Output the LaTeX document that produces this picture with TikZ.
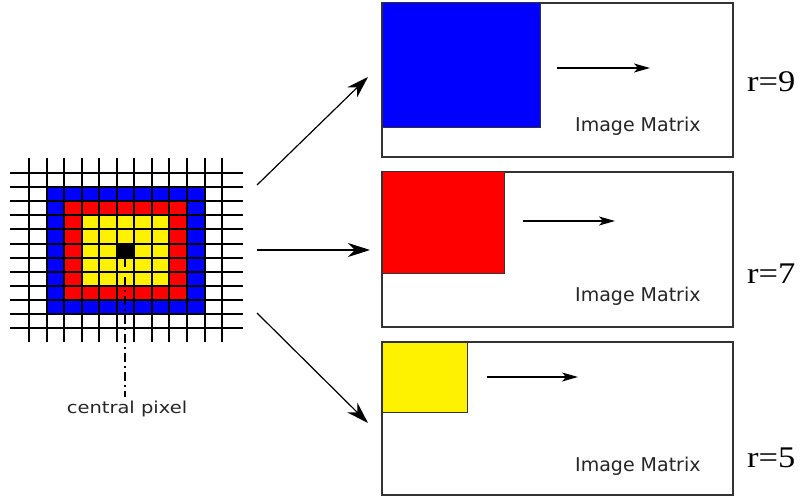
\documentclass[tikz,border=0pt]{standalone}
\usepackage{fontspec}
\usepackage{graphicx}
\setmainfont{Liberation Serif}
\newfontfamily\labelfont{DejaVu Sans}
\usetikzlibrary{arrows.meta}
\begin{document}
\begin{tikzpicture}[x=1pt,y=-1pt,
  gridline/.style={line width=2pt, black},
  matbox/.style={draw=black!80, line width=1.6pt, fill=white, inner sep=0pt, outer sep=0pt, anchor=north west},
  sq/.style={draw=black!80, line width=1pt},
  bigarrow/.style={line width=1.2pt, -{Stealth[length=22pt,width=14pt,inset=7pt]}},
  smallarrow/.style={line width=1.2pt, -{Stealth[length=16pt,width=9pt,inset=4pt]}},
  imtext/.style={anchor=base west, inner sep=0pt, font=\labelfont\fontsize{19}{22}\selectfont, text=black!85},
  rtext/.style={anchor=base west, inner sep=0pt, font=\fontsize{30}{34}\selectfont},
  captext/.style={anchor=base, inner sep=0pt, font=\labelfont\fontsize{16.5}{19}\selectfont, text=black!85}
]
\useasboundingbox (0,0) rectangle (800,497);
% pixel neighbourhood
\fill[blue]   (46.55,187.1) rectangle (204.5,314);
\fill[red]    (64.1,201.2) rectangle (187,299.9);
\fill[yellow] (81.65,215.3) rectangle (169.4,285.8);
\fill[black]  (116.75,243.5) rectangle (134.3,257.6);
\foreach \i in {0,...,11} {
  \draw[gridline] ({29+17.55*\i},158) -- ({29+17.55*\i},342);
  \draw[gridline] (10,{173+14.1*\i}) -- (243,{173+14.1*\i});
}
\coordinate (cp) at (125,258);
\coordinate (cpend) at (125,397);
\draw[line width=1.5pt, dash pattern=on 9pt off 4pt on 2pt off 4pt] (cp) -- (cpend);
\node[captext] (cap) at (127,413) {\scalebox{1.18}[1]{central pixel}};
% matrices
\node[matbox, minimum width=351pt, minimum height=154pt] (m9) at (382,3) {};
\node[matbox, minimum width=351pt, minimum height=155pt] (m7) at (382,172) {};
\node[matbox, minimum width=351pt, minimum height=153pt] (m5) at (382,342) {};
\draw[sq, fill=blue]   (m9.north west) rectangle (540,128);
\draw[sq, fill=red]    (m7.north west) rectangle (504,273);
\draw[sq, fill=yellow] (m5.north west) rectangle (467,412);
\coordinate (a9s) at (557,68);  \coordinate (a9e) at (650,68);
\coordinate (a7s) at (523,221); \coordinate (a7e) at (615,221);
\coordinate (a5s) at (487,377); \coordinate (a5e) at (578,377);
\draw[smallarrow] (a9s) -- (a9e);
\draw[smallarrow] (a7s) -- (a7e);
\draw[smallarrow] (a5s) -- (a5e);
\node[imtext] (t9) at (575,132) {Image Matrix};
\node[imtext] (t7) at (575,301) {Image Matrix};
\node[imtext] (t5) at (575,471) {Image Matrix};
\node[rtext] (r9) at (747,92) {\scalebox{1.15}[1]{r=9}};
\node[rtext] (r7) at (747,283) {\scalebox{1.15}[1]{r=7}};
\node[rtext] (r5) at (747,467) {\scalebox{1.15}[1]{r=5}};
% main arrows
\coordinate (g9) at (257,185); \coordinate (e9) at (368,77);
\coordinate (g7) at (257,250); \coordinate (e7) at (370,250);
\coordinate (g5) at (257,313); \coordinate (e5) at (368,423);
\draw[bigarrow] (g9) -- (e9);
\draw[bigarrow] (g7) -- (e7);
\draw[bigarrow] (g5) -- (e5);
\end{tikzpicture}
\end{document}
